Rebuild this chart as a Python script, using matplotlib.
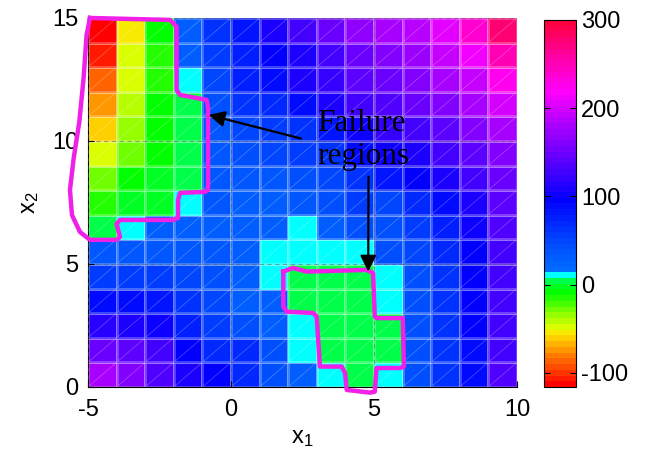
import numpy as np
import matplotlib
matplotlib.use('Agg')
import matplotlib.pyplot as plt
from matplotlib.colors import LinearSegmentedColormap, Normalize

# grid edges (cells are 1 x 1)
x1_edges = np.arange(-5, 11)
x2_edges = np.arange(0, 16)

# cell values, listed from the top row (x2 = 14..15) down to x2 = 0..1
rows_top_down = [
    [-115, -55, -12, 30, 60, 85, 105, 125, 145, 165, 178, 188, 208, 240, 275],
    [-105, -50, -15, 30, 55, 78, 95, 110, 130, 150, 160, 175, 192, 212, 250],
    [-88, -48, -15, 11, 50, 78, 88, 105, 118, 140, 150, 160, 178, 195, 225],
    [-72, -44, -12, 2, 40, 60, 68, 88, 105, 125, 135, 145, 160, 178, 200],
    [-62, -36, -12, 3, 35, 50, 55, 62, 80, 100, 118, 130, 140, 158, 178],
    [-48, -28, -8, 3, 35, 40, 50, 55, 62, 88, 100, 110, 125, 140, 160],
    [-28, -12, -3, 4, 35, 35, 35, 42, 50, 62, 80, 95, 105, 125, 145],
    [-14, -5, -3, 11, 35, 30, 32, 35, 42, 55, 52, 66, 90, 108, 140],
    [2, 11, 30, 30, 32, 30, 30, 11, 30, 40, 40, 55, 78, 100, 135],
    [35, 35, 35, 35, 35, 30, 11, 11, 11, 11, 40, 50, 70, 95, 130],
    [55, 55, 55, 50, 42, 30, 11, 2, 2, 2, 11, 42, 62, 92, 125],
    [90, 90, 85, 60, 50, 32, 30, 2, 2, 2, 11, 42, 62, 92, 125],
    [115, 110, 100, 75, 55, 40, 30, 11, 2, 2, 2, 42, 62, 92, 125],
    [150, 140, 125, 92, 70, 70, 40, 11, 2, 2, 2, 40, 62, 88, 130],
    [178, 158, 135, 110, 92, 70, 40, 30, 11, 2, 11, 40, 62, 88, 135],
]
Z = np.flipud(np.array(rows_top_down, dtype=float))

# hand-drawn outlines of the failure regions
region1_x1 = [-4.93, -2.13, -1.90, -1.90, -1.78, -0.85, -0.80, -0.80, -0.91, -1.78, -1.85,
              -1.85, -2.03, -3.88, -4.00, -3.88, -4.00, -4.93, -5.28, -5.56, -5.63, -5.50,
              -5.30, -5.15, -5.05, -4.93]
region1_x2 = [15.0, 14.92, 14.65, 12.07, 11.87, 11.67, 11.34, 8.01, 7.93, 7.89, 7.60,
              6.87, 6.79, 6.79, 6.63, 6.10, 5.98, 5.98, 6.30, 6.99, 8.01, 9.30,
              10.8, 12.6, 14.3, 15.0]
region2_x1 = [1.83, 2.17, 2.65, 4.74, 4.97, 5.03, 5.09, 6.01, 6.05, 5.91, 5.09, 5.03,
              4.86, 4.05, 3.99, 3.87, 3.11, 3.00, 2.87, 1.95, 1.83, 1.83]
region2_x2 = [4.69, 4.84, 4.69, 4.76, 4.63, 2.86, 2.80, 2.80, 0.83, 0.77, 0.77, -0.19,
              -0.23, -0.12, 0.57, 0.83, 0.83, 2.86, 3.01, 3.06, 3.26, 4.69]

label_text = 'Failure\nregions'
label_pos = (3.02, 10.05)
arrow_tails = [(2.45, 10.1), (4.81, 8.55)]
arrow_heads = [(-0.78, 11.06), (4.80, 4.69)]

vmin, vmax = -116, 300
nodes = [
    (-116, (1, 0, 0)), (-100, (1, 0.25, 0)), (-85, (1, 0.45, 0)), (-70, (1, 0.7, 0)),
    (-58, (1, 0.9, 0)), (-50, (0.85, 1, 0)), (-35, (0.55, 1, 0)), (-20, (0.2, 1, 0)),
    (-10, (0, 1, 0)), (6, (0, 1, 0.35)), (7, (0, 1, 1)), (15, (0, 1, 1)),
    (16, (0, 0.42, 1)), (45, (0, 0.3, 1)), (95, (0, 0, 1)), (140, (0.35, 0, 1)),
    (180, (0.65, 0, 1)), (220, (1, 0, 1)), (260, (1, 0, 0.65)), (300, (1, 0, 0.25)),
]
cmap = LinearSegmentedColormap.from_list(
    'fail', [((v - vmin) / (vmax - vmin), c) for v, c in nodes], N=64)

plt.rcParams['font.family'] = ['Liberation Sans', 'DejaVu Sans']
plt.rcParams['axes.unicode_minus'] = False

fig = plt.figure(figsize=(6.45, 4.55), dpi=100)
ax = fig.add_axes([0.1364, 0.1495, 0.665, 0.811])
cax = fig.add_axes([0.8434, 0.1495, 0.0496, 0.8066])

mesh = ax.pcolormesh(x1_edges, x2_edges, Z, cmap=cmap, norm=Normalize(vmin, vmax),
                     edgecolors=(1, 1, 1, 0.25), linewidth=0.8)

# faceted diagonals of each cell
for k in range(-15, 21):
    ax.plot([x1_edges[0], x1_edges[-1]], [x1_edges[0] + k, x1_edges[-1] + k],
            color=(1, 1, 1, 0.3), lw=0.5)

ax.plot(region1_x1, region1_x2, color='#f020e8', lw=3.2, clip_on=False, zorder=5)
ax.plot(region2_x1, region2_x2, color='#f020e8', lw=3.2, clip_on=False, zorder=5)

for tail, head in zip(arrow_tails, arrow_heads):
    ax.annotate('', xy=head, xytext=tail,
                arrowprops=dict(arrowstyle='-|>', color='k', lw=1.6, mutation_scale=24,
                                shrinkA=0, shrinkB=0), zorder=6)
ax.text(*label_pos, label_text, family='Liberation Serif', fontsize=22.5,
        ha='left', va='center', linespacing=1.2, zorder=6)

ax.set_xlim(-5, 10)
ax.set_ylim(0, 15)
ax.set_xticks([-5, 0, 5, 10])
ax.set_yticks([0, 5, 10, 15])
ax.tick_params(direction='in', labelsize=17, length=4)
ax.tick_params(axis='x', pad=9)
ax.tick_params(axis='y', pad=7)
ax.grid(True, color='#555555', alpha=0.5, linestyle=(0, (4, 3)), lw=0.8)
ax.set_axisbelow(False)
ax.spines['top'].set_visible(False)
ax.spines['right'].set_visible(False)
ax.set_xlabel(r'$\mathregular{x_1}$', fontsize=17, labelpad=4)
ax.set_ylabel(r'$\mathregular{x_2}$', fontsize=17, labelpad=8)

cbar = fig.colorbar(mesh, cax=cax, ticks=[-100, 0, 100, 200, 300])
cbar.ax.tick_params(direction='in', left=True, right=True, labelsize=17, length=4)

fig.savefig('out.png', dpi=100)
